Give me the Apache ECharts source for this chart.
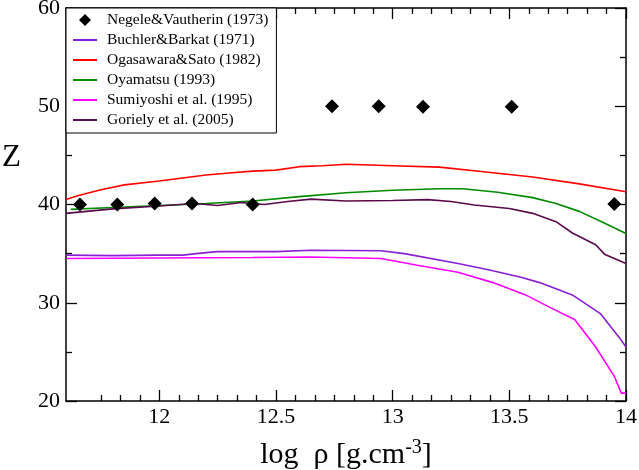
<!DOCTYPE html>
<html>
<head>
<meta charset="utf-8">
<script src="https://cdn.jsdelivr.net/npm/echarts@6/dist/echarts.min.js"></script>
<style>
  html, body { margin: 0; padding: 0; background: #fff; }
  #chart { width: 639px; height: 470px; }
</style>
</head>
<body>
<div id="chart"></div>
<script>
// data: x = log rho, y = Z
const negele = [[11.66, 40.0], [11.82, 40.0], [11.98, 40.1], [12.14, 40.1], [12.40, 40.0],
                [12.74, 50.0], [12.94, 50.0], [13.13, 49.95], [13.51, 49.95], [13.95, 40.05]];
const buchler = [[11.6, 34.85], [11.8, 34.8], [12.0, 34.85], [12.1, 34.85], [12.2, 35.1], [12.25, 35.2],
                 [12.5, 35.2], [12.65, 35.35], [12.95, 35.3], [13.05, 35.0], [13.28, 34.0], [13.41, 33.35],
                 [13.55, 32.6], [13.63, 32.05], [13.77, 30.8], [13.89, 28.9], [13.97, 26.5], [14.0, 25.5]];
const ogasawara = [[11.6, 40.5], [11.65, 40.9], [11.75, 41.5], [11.85, 42.0], [12.0, 42.4], [12.1, 42.7],
                   [12.2, 43.0], [12.3, 43.2], [12.4, 43.4], [12.5, 43.5], [12.6, 43.85], [12.7, 43.95],
                   [12.8, 44.1], [13.0, 43.95], [13.2, 43.8], [13.4, 43.3], [13.6, 42.8], [13.8, 42.1], [14.0, 41.3]];
const oyamatsu = [[11.62, 39.5], [11.8, 39.7], [12.0, 39.9], [12.2, 40.1], [12.4, 40.35], [12.6, 40.8],
                  [12.8, 41.2], [13.0, 41.45], [13.2, 41.6], [13.3, 41.6], [13.45, 41.25], [13.6, 40.7],
                  [13.7, 40.1], [13.8, 39.3], [13.9, 38.2], [14.0, 37.05]];
const sumiyoshi = [[11.6, 34.5], [12.0, 34.55], [12.4, 34.6], [12.65, 34.65], [12.95, 34.5], [13.1, 33.85],
                   [13.28, 33.1], [13.43, 32.05], [13.57, 30.8], [13.68, 29.45], [13.78, 28.3], [13.87, 25.5],
                   [13.95, 22.5], [13.98, 20.8], [14.0, 20.8]];
const goriely = [[11.6, 39.1], [11.8, 39.55], [12.0, 39.85], [12.15, 40.1], [12.25, 39.9], [12.35, 40.2],
                 [12.45, 40.0], [12.55, 40.3], [12.65, 40.55], [12.8, 40.35], [13.0, 40.4], [13.15, 40.5],
                 [13.25, 40.3], [13.35, 39.95], [13.5, 39.6], [13.6, 39.1], [13.7, 38.25], [13.77, 37.1],
                 [13.87, 35.9], [13.91, 34.9], [14.0, 34.0]];

const xMajor = [12, 12.5, 13, 13.5, 14];
const yMinor = [25, 35, 45, 55];
const xMinor = [];
for (let k = 141; k < 168; k++) if (k % 6) xMinor.push(k / 12);

const serif = "Liberation Serif";
const frame = { show: true, lineStyle: { color: "#000", width: 1.5 } };
const tickStyle = { color: "#000", width: 1.3 };

function xAxisDef(pos, ticks, len, withLine, withLabel) {
  return {
    type: "value", position: pos, min: 11.6, max: 14,
    axisLine: withLine ? frame : { show: false },
    axisTick: { show: true, inside: true, length: len, customValues: ticks, lineStyle: tickStyle },
    axisLabel: withLabel
      ? { show: true, customValues: xMajor, color: "#000", fontFamily: serif, fontSize: 22, margin: 5 }
      : { show: false },
    splitLine: { show: false },
  };
}

function yAxisDef(pos, withLabel) {
  return {
    type: "value", position: pos, min: 20, max: 60, interval: 10,
    axisLine: frame,
    axisTick: { show: true, inside: true, length: 11, lineStyle: tickStyle },
    axisLabel: withLabel ? { color: "#000", fontFamily: serif, fontSize: 22, margin: 6 } : { show: false },
    splitLine: { show: false },
  };
}

function yMinorDef(pos) {
  return {
    type: "value", position: pos, min: 20, max: 60,
    axisLine: { show: false },
    axisTick: { show: true, inside: true, length: 6, customValues: yMinor, lineStyle: tickStyle },
    axisLabel: { show: false },
    splitLine: { show: false },
  };
}

const bottom = xAxisDef("bottom", xMajor, 11, true, true);
bottom.name = "{a|log  ρ [g.cm}{s|-3}{a|]}";
bottom.nameLocation = "middle";
bottom.nameGap = 37;
bottom.nameTextStyle = {
  rich: {
    a: { fontFamily: serif, fontSize: 30, color: "#000" },
    s: { fontFamily: serif, fontSize: 20, color: "#000", verticalAlign: "bottom", padding: [0, 0, 15, 0] },
  },
};

function line(name, data, color) {
  return { name, type: "line", data, showSymbol: false, symbol: "none",
           lineStyle: { color, width: 1.6 }, itemStyle: { color }, z: 2 };
}

const legendNames = ["Negele&Vautherin (1973)", "Buchler&Barkat (1971)", "Ogasawara&Sato (1982)",
                     "Oyamatsu (1993)", "Sumiyoshi et al. (1995)", "Goriely et al. (2005)"];

const chart = echarts.init(document.getElementById("chart"));
chart.setOption({
  animation: false,
  backgroundColor: "#fff",
  title: { text: "Z", left: 2, top: 142, padding: 0,
           textStyle: { fontFamily: serif, fontSize: 31, fontWeight: "normal", color: "#000" } },
  grid: { left: 66, right: 13, top: 8, bottom: 69, outerBoundsMode: "none" },
  legend: {
    orient: "vertical", left: 66, top: 8,
    backgroundColor: "#fff", borderColor: "#000", borderWidth: 1,
    padding: [4, 8, 5, 6], itemWidth: 24, itemHeight: 12, itemGap: 4,
    textStyle: { fontFamily: serif, fontSize: 15.5, color: "#000", padding: [0, 0, 0, 5] },
    data: legendNames.map((n, i) => i === 0
      ? { name: n, icon: "path://M6,0 L12,6 L6,12 L0,6 Z", itemStyle: { color: "#000", opacity: 1 } }
      : { name: n, itemStyle: { opacity: 0 } }),
  },
  xAxis: [bottom, xAxisDef("bottom", xMinor, 6, false, false),
          xAxisDef("top", xMajor, 11, true, false), xAxisDef("top", xMinor, 6, false, false)],
  yAxis: [yAxisDef("left", true), yAxisDef("right", false), yMinorDef("left"), yMinorDef("right")],
  series: [
    { name: legendNames[0], type: "scatter", data: negele, symbol: "diamond",
      symbolSize: 14, itemStyle: { color: "#000", opacity: 1 }, z: 5 },
    line(legendNames[1], buchler, "#8a1ed6"),
    line(legendNames[2], ogasawara, "#ff0000"),
    line(legendNames[3], oyamatsu, "#008b00"),
    line(legendNames[4], sumiyoshi, "#ff00ff"),
    line(legendNames[5], goriely, "#5a0a4a"),
  ],
});
</script>
</body>
</html>
